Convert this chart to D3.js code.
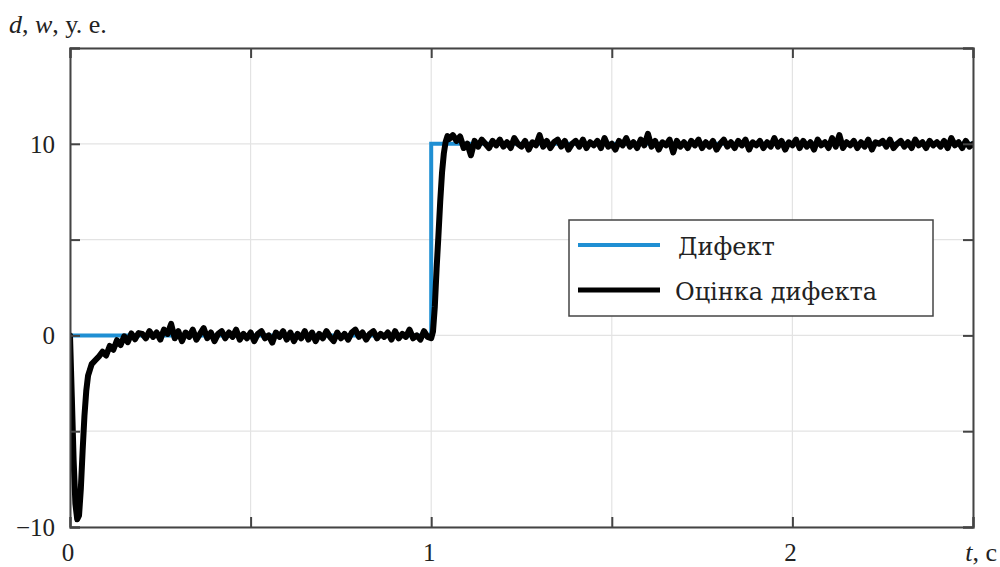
<!DOCTYPE html>
<html>
<head>
<meta charset="utf-8">
<script src="https://cdn.jsdelivr.net/npm/d3@7"></script>
<style>
  html, body { margin: 0; padding: 0; background: #fff; }
  svg { display: block; }
  text { font-family: "Liberation Serif", "DejaVu Serif", serif; fill: #222; }
</style>
</head>
<body>
<svg id="chart" width="1000" height="567"></svg>
<script>
// ---------- data ----------
const xTicks = [0, 0.5, 1, 1.5, 2, 2.5];
const xTickLabels = ["0", "", "1", "", "2", ""];
const yTicks = [-10, -5, 0, 5, 10, 15];
const yTickLabels = ["\u221210", "", "0", "", "10", ""];

const seriesNames = ["Дифект", "Оцінка дифекта"];

// true defect (step)
const defectT = [0, 1, 1, 2.5];
const defectV = [0, 0, 10, 10];

// estimate: initial transient (t, value pairs)
const startT = [0, 0.005, 0.01, 0.015, 0.02, 0.025, 0.03, 0.035, 0.04, 0.045, 0.05, 0.055, 0.06, 0.07, 0.08, 0.09, 0.10, 0.11, 0.12, 0.13, 0.14, 0.15, 0.16, 0.17, 0.18, 0.19];
const startV = [0, -3.2, -6.5, -8.8, -9.6, -9.4, -8.0, -6.0, -4.2, -2.9, -2.1, -1.8, -1.5, -1.3, -1.1, -0.85, -1.05, -0.55, -0.75, -0.25, -0.5, -0.05, -0.35, 0.1, -0.2, 0.12];

// estimate around zero, t = 0.20 .. 1.00 step 0.01
const zeroStart = 0.20;
const zeroV = [
  0.08, -0.15, 0.22, -0.08, 0.15, -0.22, 0.3, 0.08, 0.6, -0.15,
  0.22, -0.3, 0.15, -0.08, 0.3, -0.22, 0.08, 0.38, -0.15, 0.15,
  -0.3, 0.08, 0.22, -0.15, 0.15, -0.08, 0.3, -0.22, 0.08, -0.15,
  0.15, -0.3, 0.08, 0.22, -0.15, 0.0, -0.38, 0.15, -0.08, 0.22,
  -0.22, 0.15, -0.3, 0.08, -0.15, 0.22, -0.22, 0.15, -0.3, 0.08,
  -0.15, 0.22, -0.08, -0.3, 0.15, -0.15, 0.08, -0.22, 0.15, 0.3,
  -0.08, 0.15, -0.22, 0.08, 0.22, -0.15, 0.08, -0.08, 0.15, -0.22,
  0.22, -0.15, 0.08, -0.08, 0.3, -0.15, 0.0, -0.22, 0.22, -0.08,
  -0.15
];

// estimate: step transient
const riseT = [1.005, 1.01, 1.015, 1.02, 1.025, 1.03, 1.035, 1.04, 1.045, 1.05];
const riseV = [0.2, 1.5, 3.5, 5.2, 7.0, 8.5, 9.5, 10.1, 10.4, 10.25];

// estimate around ten, t = 1.06 .. 2.50 step 0.01
const highStart = 1.06;
const highV = [
  10.45, 10.15, 10.38, 9.78, 10.0, 9.4, 10.15, 9.85, 10.22, 10.0,
  9.78, 10.15, 9.92, 10.22, 9.85, 10.08, 9.78, 10.3, 10.0, 9.85,
  10.15, 9.7, 10.08, 9.92, 10.45, 9.85, 10.15, 9.78, 10.08, 10.22,
  9.85, 10.15, 9.7, 10.0, 10.15, 9.85, 10.22, 9.78, 10.08, 9.92,
  10.15, 9.78, 10.3, 9.85, 10.0, 9.7, 10.15, 9.92, 10.3, 9.85,
  10.08, 9.78, 10.22, 9.92, 10.52, 9.85, 10.15, 9.7, 10.08, 9.92,
  10.22, 9.55, 10.15, 9.85, 10.08, 9.78, 10.15, 9.92, 10.22, 9.78,
  10.08, 9.85, 10.15, 9.7, 10.0, 10.22, 9.85, 10.08, 9.78, 10.15,
  9.92, 10.22, 9.7, 10.08, 9.92, 10.15, 9.78, 10.08, 9.85, 10.3,
  9.85, 10.15, 9.7, 10.08, 9.92, 10.22, 9.78, 10.15, 9.85, 10.08,
  9.7, 10.22, 9.92, 10.08, 9.78, 10.3, 9.85, 10.45, 9.78, 10.08,
  9.92, 10.15, 9.78, 10.08, 9.85, 10.22, 9.7, 10.08, 10.0, 10.15,
  9.85, 10.22, 9.78, 10.0, 10.15, 9.85, 10.08, 9.78, 10.22, 9.92,
  10.08, 9.78, 10.15, 9.92, 10.08, 9.85, 10.15, 9.78, 10.3, 9.92,
  10.08, 9.78, 10.15, 9.85, 10.0
];
const sampleStep = 0.01;

// ---------- build ----------
const defectData = defectT.map((t, i) => [t, defectV[i]]);
const estData = [];
startT.forEach((t, i) => estData.push([t, startV[i]]));
zeroV.forEach((v, i) => estData.push([zeroStart + i * sampleStep, v]));
riseT.forEach((t, i) => estData.push([t, riseV[i]]));
highV.forEach((v, i) => estData.push([highStart + i * sampleStep, v]));

const svg = d3.select("#chart");
const m = { left: 70, right: 973, top: 48, bottom: 527 };
const x = d3.scaleLinear().domain([0, 2.5]).range([m.left, m.right]);
const y = d3.scaleLinear().domain([-10, 15]).range([m.bottom, m.top]);

// grid
const grid = svg.append("g");
grid.selectAll(".gx").data(xTicks).enter().append("line")
  .attr("x1", d => x(d)).attr("x2", d => x(d))
  .attr("y1", m.top).attr("y2", m.bottom)
  .attr("stroke", "#e3e3e3").attr("stroke-width", 1.2);
grid.selectAll(".gy").data(yTicks).enter().append("line")
  .attr("y1", d => y(d)).attr("y2", d => y(d))
  .attr("x1", m.left).attr("x2", m.right)
  .attr("stroke", "#e3e3e3").attr("stroke-width", 1.2);

// clip
svg.append("clipPath").attr("id", "clip").append("rect")
  .attr("x", m.left).attr("y", m.top - 10)
  .attr("width", m.right - m.left).attr("height", m.bottom - m.top + 10);

const line = d3.line().x(d => x(d[0])).y(d => y(d[1]));
const plot = svg.append("g").attr("clip-path", "url(#clip)");
plot.append("path").datum(defectData).attr("d", line)
  .attr("fill", "none").attr("stroke", "#1f8fd3").attr("stroke-width", 4);
plot.append("path").datum(estData).attr("d", line)
  .attr("fill", "none").attr("stroke", "#000").attr("stroke-width", 6)
  .attr("stroke-linejoin", "round").attr("stroke-linecap", "round");

// axes (inward ticks)
const axL = d3.axisLeft(y).tickValues(yTicks).tickSize(-10).tickFormat("");
const axR = d3.axisRight(y).tickValues(yTicks).tickSize(-10).tickFormat("");
const axB = d3.axisBottom(x).tickValues(xTicks).tickSize(-10).tickFormat("");
const axT = d3.axisTop(x).tickValues(xTicks).tickSize(-10).tickFormat("");
function style(g) {
  g.selectAll("path").attr("stroke", "#444").attr("stroke-width", 2);
  g.selectAll("line").attr("stroke", "#444").attr("stroke-width", 2);
}
svg.append("g").attr("transform", `translate(${m.left},0)`).call(axL).call(style);
svg.append("g").attr("transform", `translate(${m.right},0)`).call(axR).call(style);
svg.append("g").attr("transform", `translate(0,${m.bottom})`).call(axB).call(style);
svg.append("g").attr("transform", `translate(0,${m.top})`).call(axT).call(style);

// tick labels
svg.selectAll(".yl").data(yTicks).enter().append("text")
  .attr("x", 55).attr("y", d => y(d)).attr("dy", "0.35em")
  .attr("text-anchor", "end").attr("font-size", 25)
  .text((d, i) => yTickLabels[i]);
svg.selectAll(".xl").data(xTicks).enter().append("text")
  .attr("x", d => x(d) - 2).attr("y", 561)
  .attr("text-anchor", "middle").attr("font-size", 25)
  .text((d, i) => xTickLabels[i]);

// axis titles
const yt = svg.append("text").attr("x", 9).attr("y", 33).attr("font-size", 26);
yt.append("tspan").attr("font-style", "italic").text("d");
yt.append("tspan").text(", ");
yt.append("tspan").attr("font-style", "italic").text("w");
yt.append("tspan").text(", у. е.");

const xt = svg.append("text").attr("x", 997).attr("y", 561).attr("font-size", 26).attr("text-anchor", "end");
xt.append("tspan").attr("font-style", "italic").text("t");
xt.append("tspan").text(", с");

// legend
const lg = svg.append("g");
lg.append("rect").attr("x", 569).attr("y", 220).attr("width", 364).attr("height", 96)
  .attr("fill", "#fff").attr("stroke", "#444").attr("stroke-width", 1.5);
const legColors = ["#1f8fd3", "#000"];
const legY = [245, 290];
seriesNames.forEach((name, i) => {
  lg.append("line").attr("x1", 578).attr("x2", 660).attr("y1", legY[i]).attr("y2", legY[i])
    .attr("stroke", legColors[i]).attr("stroke-width", i === 0 ? 4 : 5);
  lg.append("text").attr("x", i === 0 ? 678 : 675).attr("y", legY[i] + 10)
    .style("font-family", "'DejaVu Serif', serif")
    .attr("font-size", 24).attr("fill", "#111").text(name);
});
</script>
</body>
</html>
